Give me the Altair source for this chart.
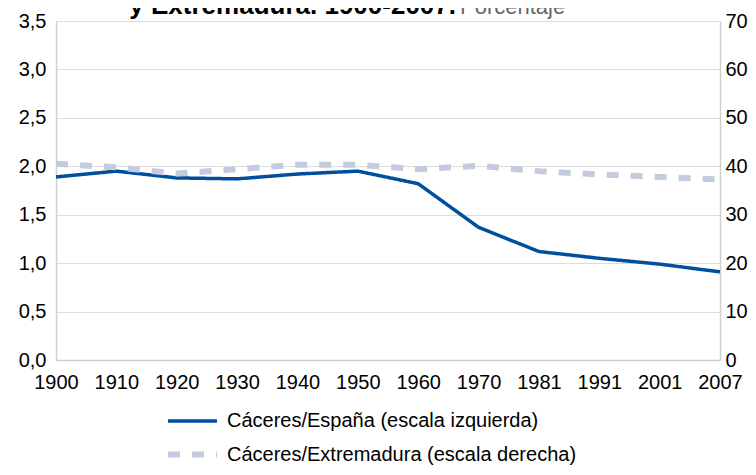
import altair as alt
import pandas as pd

years = ["1900", "1910", "1920", "1930", "1940", "1950", "1960", "1970", "1981", "1991", "2001", "2007"]
caceres_espana = [1.89, 1.95, 1.88, 1.87, 1.92, 1.95, 1.82, 1.37, 1.12, 1.05, 0.99, 0.91]
caceres_extremadura = [40.5, 39.8, 38.5, 39.4, 40.3, 40.3, 39.4, 40.1, 39.0, 38.3, 37.8, 37.3]
series_names = ["Cáceres/España (escala izquierda)", "Cáceres/Extremadura (escala derecha)"]
left_ticks = [0, 0.5, 1.0, 1.5, 2.0, 2.5, 3.0, 3.5]
right_ticks = [0, 10, 20, 30, 40, 50, 60, 70]
title_bold = "y Extremadura. 1900-2007."
title_unit = "Porcentaje"

FONT = "Liberation Sans"
GRID = "#dcdcdc"
DOMAIN = "#d0d0d0"

df_esp = pd.DataFrame({"year": years, "value": caceres_espana, "serie": series_names[0]})
df_ext = pd.DataFrame({"year": years, "value": caceres_extremadura, "serie": series_names[1]})

color_scale = alt.Scale(domain=series_names, range=["#004f9f", "#c3cbdf"])
dash_scale = alt.Scale(domain=series_names, range=[[1, 0], [12, 12]])
width_scale = alt.Scale(domain=series_names, range=[3.5, 6])

legend = alt.Legend(
    title=None, orient="none", legendX=121, legendY=386, direction="vertical",
    symbolType="M-2,0H2", symbolSize=600, labelFontSize=20, labelFont=FONT,
    labelColor="#000000", rowPadding=8, labelOffset=19, padding=0, labelLimit=500,
)

x_enc = alt.X(
    "year:O", sort=years, scale=alt.Scale(type="point", padding=0),
    axis=alt.Axis(title=None, labelAngle=0, ticks=False, domain=True, domainColor=DOMAIN,
                  domainWidth=1.5, labelFontSize=20, labelFont=FONT, labelColor="#000000",
                  labelPadding=12, grid=False),
)

common = dict(
    color=alt.Color("serie:N", scale=color_scale, legend=legend),
    strokeDash=alt.StrokeDash("serie:N", scale=dash_scale, legend=legend),
    strokeWidth=alt.StrokeWidth("serie:N", scale=width_scale, legend=legend),
)

line_esp = alt.Chart(df_esp).mark_line(strokeCap="butt").encode(
    x=x_enc,
    y=alt.Y("value:Q", scale=alt.Scale(domain=[0, 3.5], nice=False, zero=True),
            axis=alt.Axis(orient="left", title=None, values=left_ticks, grid=True, gridColor=GRID,
                          gridWidth=1, ticks=False, domain=True, domainColor=DOMAIN, domainWidth=1.5,
                          labelFontSize=20, labelFont=FONT, labelColor="#000000", labelPadding=10,
                          labelExpr="replace(format(datum.value, '.1f'), '.', ',')")),
    **common,
)

line_ext = alt.Chart(df_ext).mark_line(strokeCap="butt").encode(
    x=x_enc,
    y=alt.Y("value:Q", scale=alt.Scale(domain=[0, 70], nice=False, zero=True),
            axis=alt.Axis(orient="right", title=None, values=right_ticks, grid=False, ticks=False,
                          domain=True, domainColor=DOMAIN, domainWidth=1.5,
                          labelFontSize=20, labelFont=FONT, labelColor="#000000", labelPadding=5)),
    **common,
)

title_a = alt.Chart(pd.DataFrame({"t": [title_bold]})).mark_text(
    align="right", baseline="alphabetic", fontSize=26, fontWeight="bold", font=FONT, color="#000000"
).encode(x=alt.value(400), y=alt.value(-7), text="t:N")

title_b = alt.Chart(pd.DataFrame({"t": [title_unit]})).mark_text(
    align="left", baseline="alphabetic", fontSize=22, font=FONT, color="#666666"
).encode(x=alt.value(404), y=alt.value(-7), text="t:N")

chart = alt.layer(line_esp, line_ext, title_a, title_b).resolve_scale(
    y="independent"
).properties(
    width=664, height=339,
    autosize=alt.AutoSizeParams(type="none"),
    padding={"left": 48, "top": 13, "right": 28, "bottom": 107},
).configure_view(stroke=None)

chart.save("out.html", embed_options={"renderer": "svg", "actions": False})
